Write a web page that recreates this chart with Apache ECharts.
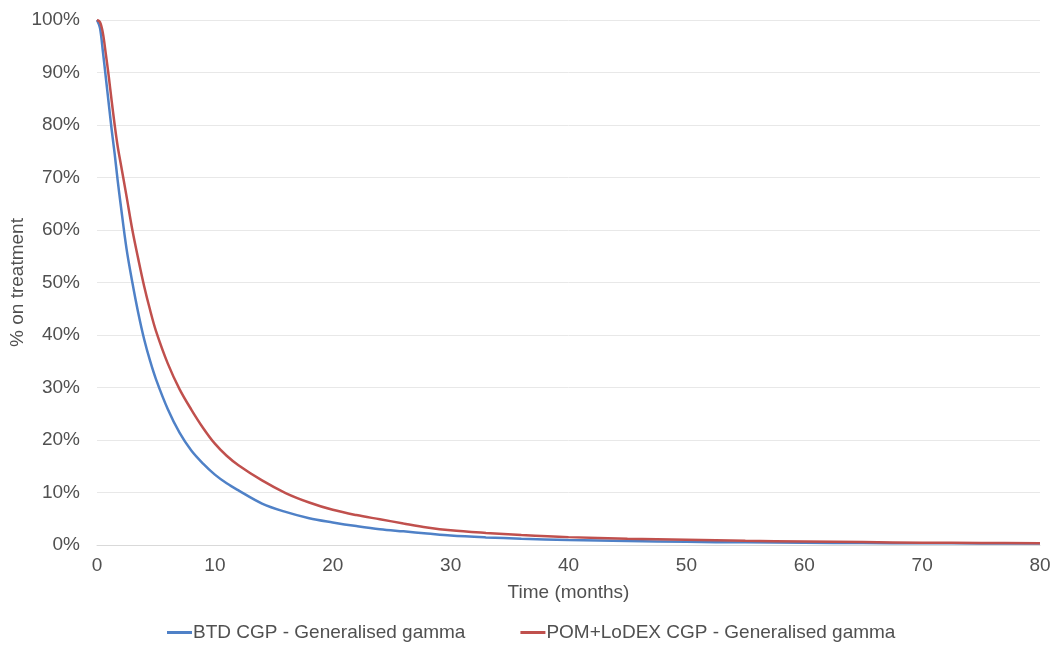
<!DOCTYPE html>
<html>
<head>
<meta charset="utf-8">
<script src="https://cdn.jsdelivr.net/npm/echarts@6/dist/echarts.min.js"></script>
<style>
  html, body { margin: 0; padding: 0; background: #ffffff; }
  #chart { width: 1052px; height: 646px; }
</style>
</head>
<body>
<div id="chart"></div>
<script>
// Time since start of treatment, months
const months = [0, 0.25, 0.5, 0.75, 1, 1.25, 1.5, 1.75, 2, 2.5, 3, 3.5, 4, 4.5, 5, 6, 7, 8, 9, 10, 11, 12, 14, 16, 18, 20, 22, 24, 26, 28, 30, 33, 36, 40, 45, 50, 55, 60, 65, 70, 75, 80];

// % of patients still on treatment
const btdOnTreatment = [100, 98.5, 94, 89, 84, 79, 74.5, 69.5, 65, 56.5, 50, 44.2, 39.2, 35.1, 31.6, 25.9, 21.4, 18, 15.5, 13.4, 11.75, 10.4, 7.9, 6.3, 5.1, 4.3, 3.6, 3.0, 2.6, 2.2, 1.8, 1.45, 1.2, 0.95, 0.75, 0.6, 0.5, 0.42, 0.37, 0.33, 0.3, 0.28];
const pomOnTreatment = [100, 99.6, 97.5, 93.5, 89.2, 84.5, 80, 76, 72.8, 66.5, 60, 54.5, 49.3, 44.8, 40.8, 34.6, 29.7, 25.8, 22.3, 19.3, 17, 15.2, 12.3, 9.9, 8.1, 6.7, 5.7, 4.9, 4.1, 3.35, 2.8, 2.3, 1.9, 1.5, 1.2, 1.0, 0.8, 0.65, 0.55, 0.45, 0.4, 0.35];

const seriesNames = ['BTD CGP - Generalised gamma', 'POM+LoDEX CGP - Generalised gamma'];
const seriesColors = ['#4f81c7', '#c0504d'];

const xTicks = { min: 0, max: 80, step: 10 };
const yTicks = { min: 0, max: 100, step: 10 };

const pairs = (xs, ys) => xs.map((x, i) => [x, ys[i]]);

const font = 'Liberation Sans, Arial, sans-serif';
const fontSize = 19;
const textColor = '#505050';

const chart = echarts.init(document.getElementById('chart'), null, { renderer: 'canvas' });
chart.setOption({
  animation: false,
  backgroundColor: '#ffffff',
  grid: { left: 97, right: 12, top: 20, bottom: 101, containLabel: false, outerBoundsMode: 'none' },
  legend: {
    top: 623,
    left: 167,
    padding: 0,
    icon: 'rect',
    itemWidth: 25,
    itemHeight: 3,
    itemGap: 55,
    textStyle: { fontFamily: font, fontSize: fontSize, color: textColor, padding: [0, 0, 0, -4] },
    data: seriesNames
  },
  xAxis: {
    type: 'value',
    min: xTicks.min,
    max: xTicks.max,
    interval: xTicks.step,
    name: 'Time (months)',
    nameLocation: 'middle',
    nameGap: 38,
    nameTextStyle: { fontFamily: font, fontSize: fontSize, color: textColor },
    axisLine: { show: true, lineStyle: { color: '#d9d9d9', width: 1 } },
    axisTick: { show: false },
    splitLine: { show: false },
    axisLabel: { fontFamily: font, fontSize: fontSize, color: textColor, margin: 11 }
  },
  yAxis: {
    type: 'value',
    min: yTicks.min,
    max: yTicks.max,
    interval: yTicks.step,
    name: '% on treatment',
    nameLocation: 'middle',
    nameRotate: 90,
    nameGap: 70,
    nameMoveOverlap: false,
    nameTextStyle: { fontFamily: font, fontSize: fontSize, color: textColor },
    axisLine: { show: false },
    axisTick: { show: false },
    splitLine: { show: true, lineStyle: { color: '#e8e8e8', width: 1 } },
    axisLabel: { fontFamily: font, fontSize: fontSize, color: textColor, margin: 17, formatter: '{value}%' }
  },
  series: [
    {
      name: seriesNames[0],
      type: 'line',
      data: pairs(months, btdOnTreatment),
      showSymbol: false,
      smooth: 0.35,
      lineStyle: { color: seriesColors[0], width: 2.5 },
      itemStyle: { color: seriesColors[0] },
      z: 2
    },
    {
      name: seriesNames[1],
      type: 'line',
      data: pairs(months, pomOnTreatment),
      showSymbol: false,
      smooth: 0.35,
      lineStyle: { color: seriesColors[1], width: 2.5 },
      itemStyle: { color: seriesColors[1] },
      z: 3
    }
  ]
});
</script>
</body>
</html>
